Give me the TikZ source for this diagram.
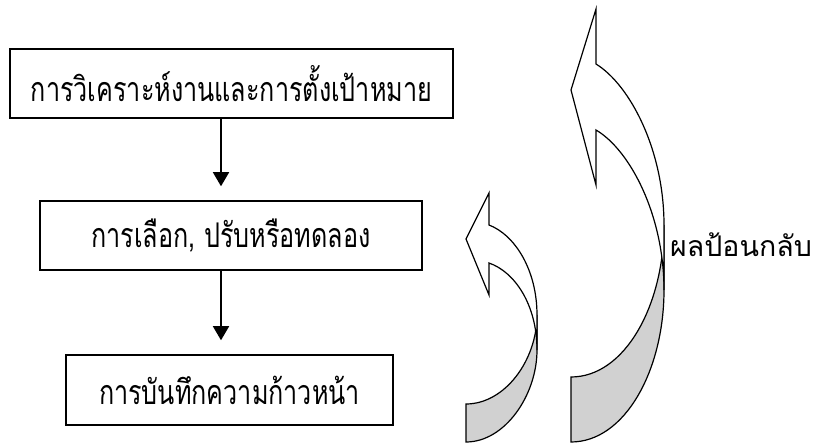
\documentclass[tikz,border=0pt]{standalone}
\usepackage{fontspec}
\newfontfamily\thaifont[Script=Thai]{Loma}
\newfontfamily\thainarrow[Script=Thai,FakeStretch=0.74]{Loma}
\usetikzlibrary{arrows.meta}
\begin{document}
\begin{tikzpicture}[x=1pt,y=-1pt,
  box/.style={draw,line width=1.5pt,inner sep=0pt,font=\thainarrow\fontsize{34}{38}\selectfont},
  flow/.style={line width=1.5pt,-{Triangle[width=16pt,length=14pt]},shorten >=14pt},
  band/.style={draw,line width=1.2pt,line join=miter},
  lbl/.style={font=\thaifont\fontsize{28.5}{32}\selectfont,inner sep=0pt}]
\useasboundingbox (0,0) rectangle (815,443);
\node[box,minimum width=443pt,minimum height=69pt] (b1) at (231.5,83.5) {การวิเคราะห์งานและการตั้งเป้าหมาย};
\node[box,minimum width=382pt,minimum height=69pt] (b2) at (231,235.5) {การเลือก, ปรับหรือทดลอง};
\node[box,minimum width=327pt,minimum height=70pt] (b3) at (229.5,390) {การบันทึกความก้าวหน้า};
\coordinate (ax) at (221,0);
\draw[flow] (b1.south -| ax) -- (b2.north -| ax);
\draw[flow] (b2.south -| ax) -- (b3.north -| ax);
% small feedback arrow
\draw[band,fill=black!18] (466,404) -- (466,442)
  .. controls (505,442) and (537,395) .. (537,350) -- (537,315)
  .. controls (537,360) and (505,404) .. (466,404) -- cycle;
\draw[band,fill=white] (537,315) .. controls (537,270) and (515,235) .. (489,225)
  -- (489,193) -- (466,239) -- (489,295) -- (489,263)
  .. controls (515,272) and (537,305) .. (537,350) -- cycle;
% large feedback arrow
\draw[band,fill=black!18] (571,377) -- (571,442)
  .. controls (625,442) and (664,370) .. (664,290) -- (664,225)
  .. controls (664,305) and (625,377) .. (571,377) -- cycle;
\draw[band,fill=white] (664,225) .. controls (664,150) and (630,85) .. (596,64)
  -- (596,9) -- (571,90) -- (596,185) -- (596,130)
  .. controls (630,150) and (664,215) .. (664,290) -- cycle;
\node[lbl,anchor=west] (fb) at (670,245) {ผลป้อนกลับ};
\end{tikzpicture}
\end{document}
